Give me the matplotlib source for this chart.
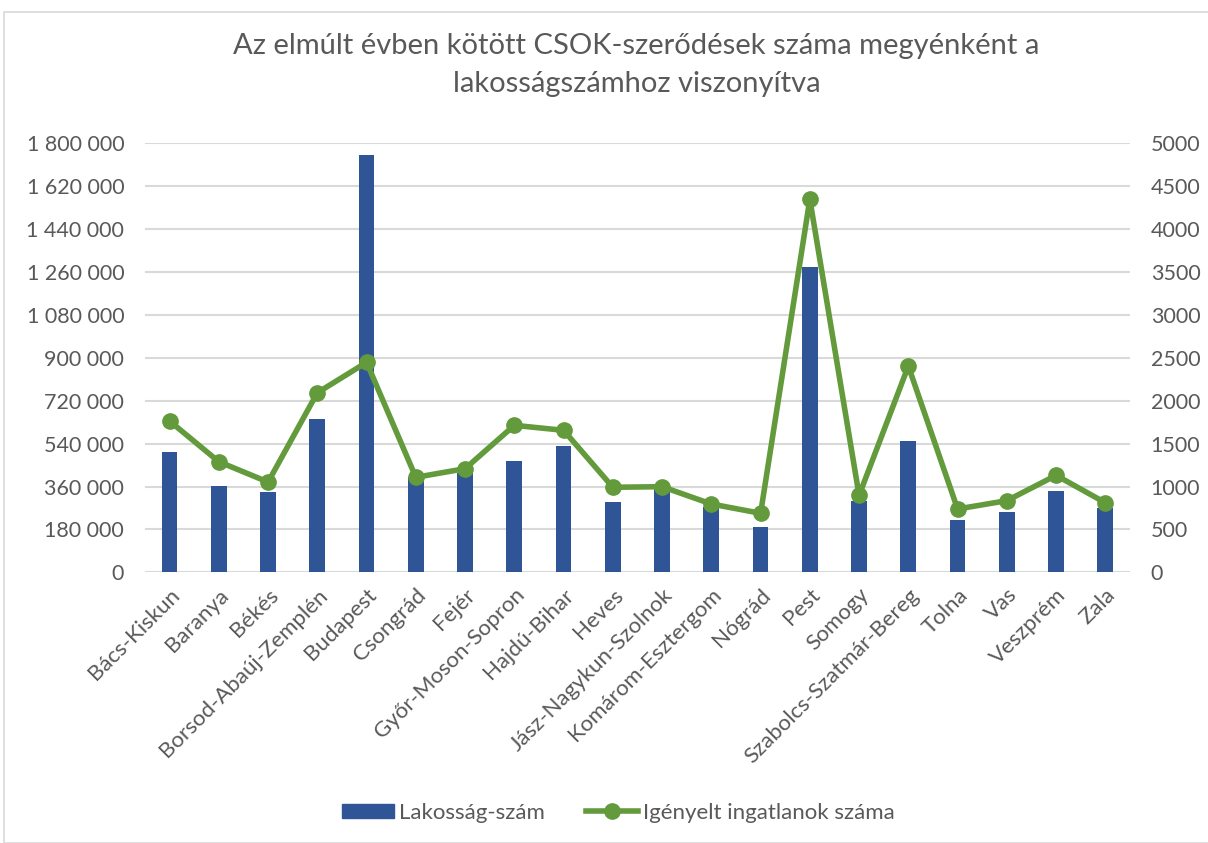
import matplotlib
matplotlib.use("Agg")
import matplotlib.pyplot as plt
from matplotlib.ticker import FuncFormatter, MultipleLocator
import matplotlib.patches as mpatches
from matplotlib.lines import Line2D

categories = ["Bács-Kiskun", "Baranya", "Békés", "Borsod-Abaúj-Zemplén", "Budapest",
              "Csongrád", "Fejér", "Győr-Moson-Sopron", "Hajdú-Bihar", "Heves",
              "Jász-Nagykun-Szolnok", "Komárom-Esztergom", "Nógrád", "Pest", "Somogy",
              "Szabolcs-Szatmár-Bereg", "Tolna", "Vas", "Veszprém", "Zala"]
population = [503500, 361000, 336000, 642000, 1752000,
              401000, 418000, 466000, 529000, 295000,
              350000, 275000, 190000, 1280000, 300500,
              552000, 219500, 254500, 342500, 270000]
applications = [1763, 1289, 1052, 2093, 2447,
                1107, 1208, 1713, 1655, 991,
                998, 796, 688, 4347, 897,
                2404, 738, 835, 1130, 811]

title = "Az elmúlt évben kötött CSOK-szerődések száma megyénként a\nlakosságszámhoz viszonyítva"
bar_label = "Lakosság-szám"
line_label = "Igényelt ingatlanok száma"

FONT = ["Lato", "DejaVu Sans"]
TXT = "#595959"
BLUE = "#2F5597"
GREEN = "#629A3C"
GRID = "#D9D9D9"

plt.rcParams["font.family"] = FONT

fig = plt.figure(figsize=(12.08, 8.43), dpi=100)
fig.patch.set_facecolor("white")
fig.add_artist(mpatches.Rectangle((4 / 1208, 0), 1.2, (843 - 12) / 843,
                                  transform=fig.transFigure, fill=False,
                                  edgecolor=GRID, linewidth=1.2))

ax = fig.add_axes([0.120, 0.3211, 0.8154, 0.5089])
x = list(range(len(categories)))
ax.bar(x, population, width=0.32, color=BLUE, zorder=2)
ax.set_ylim(0, 1800000)
ax.set_xlim(-0.5, len(categories) - 0.5)
ax.yaxis.set_major_locator(MultipleLocator(180000))
ax.yaxis.set_major_formatter(FuncFormatter(lambda v, p: f"{int(round(v)):,}".replace(",", " ")))
ax.grid(axis="y", color=GRID, linewidth=1.5, zorder=0)
ax.set_axisbelow(True)
for s in ax.spines.values():
    s.set_visible(False)
ax.tick_params(axis="y", length=0, labelsize=15.5, labelcolor=TXT, pad=15)
ax.tick_params(axis="x", length=0, labelsize=16, labelcolor=TXT, pad=9)
ax.set_xticks(x)
ax.set_xticklabels(categories, rotation=45, ha="right", rotation_mode="anchor")

ax2 = ax.twinx()
ax2.plot(x, applications, color=GREEN, linewidth=4, marker="o", markersize=11, zorder=3)
ax2.set_ylim(0, 5000)
ax2.yaxis.set_major_locator(MultipleLocator(500))
ax2.yaxis.set_major_formatter(FuncFormatter(lambda v, p: f"{int(round(v))}"))
for s in ax2.spines.values():
    s.set_visible(False)
ax2.tick_params(axis="y", length=0, labelsize=15.5, labelcolor=TXT, pad=15)

fig.text(0.527, 0.923, title, ha="center", va="center", fontsize=21, color=TXT, linespacing=1.6)

handles = [mpatches.Patch(color=BLUE, label=bar_label),
           Line2D([0], [0], color=GREEN, linewidth=4, marker="o", markersize=11, label=line_label)]
fig.legend(handles=handles, loc="center", bbox_to_anchor=(0.5116, 0.036), ncol=2, frameon=False,
           fontsize=16, labelcolor=TXT, handlelength=2.35, handleheight=0.6,
           columnspacing=1.85, handletextpad=0.22)

fig.savefig("out.png", dpi=100, facecolor="white")
